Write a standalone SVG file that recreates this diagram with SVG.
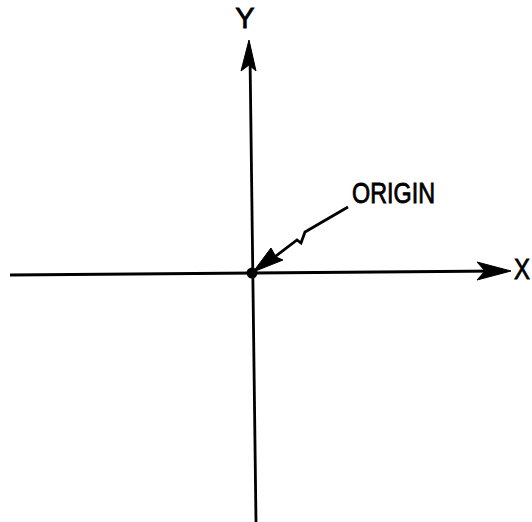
<svg xmlns="http://www.w3.org/2000/svg" width="532" height="522" viewBox="0 0 532 522">
<style>
.ax{stroke:#000;stroke-width:2.8;fill:none;stroke-linecap:butt;stroke-linejoin:miter}
.hd{fill:#000;stroke:#000;stroke-width:1;stroke-linejoin:round}
.lb{font-family:"Liberation Sans",Arial,sans-serif;font-size:29px;fill:#000;stroke:#000;stroke-width:0.8}
</style>
<rect width="532" height="522" fill="#fff"/>
<g id="connectors">
<line class="ax" x1="10" y1="275" x2="500" y2="271"/>
<line class="ax" x1="250" y1="55" x2="256" y2="522"/>
<path class="ax" d="M348,207 L305,232 L301,243 L297,240 L268,262"/>
</g>
<g id="x-axis-head"><polygon class="hd" points="511,271 477,262 485,271 477,280"/></g>
<g id="y-axis-head"><polygon class="hd" points="249,40 256,71 249,65 241,71"/></g>
<g id="origin-arrow-head"><polygon class="hd" points="253,272 271,248 276,257 283,260"/></g>
<g id="origin"><circle cx="252" cy="273" r="5.5" fill="#000"/></g>
<g id="label-y"><text class="lb" x="245" y="28" text-anchor="middle">Y</text></g>
<g id="label-x"><text class="lb" x="514" y="279" font-size="27" textLength="16" lengthAdjust="spacingAndGlyphs">X</text></g>
<g id="label-origin"><text class="lb" x="352" y="203" font-size="27" textLength="83" lengthAdjust="spacingAndGlyphs">ORIGIN</text></g>
</svg>
